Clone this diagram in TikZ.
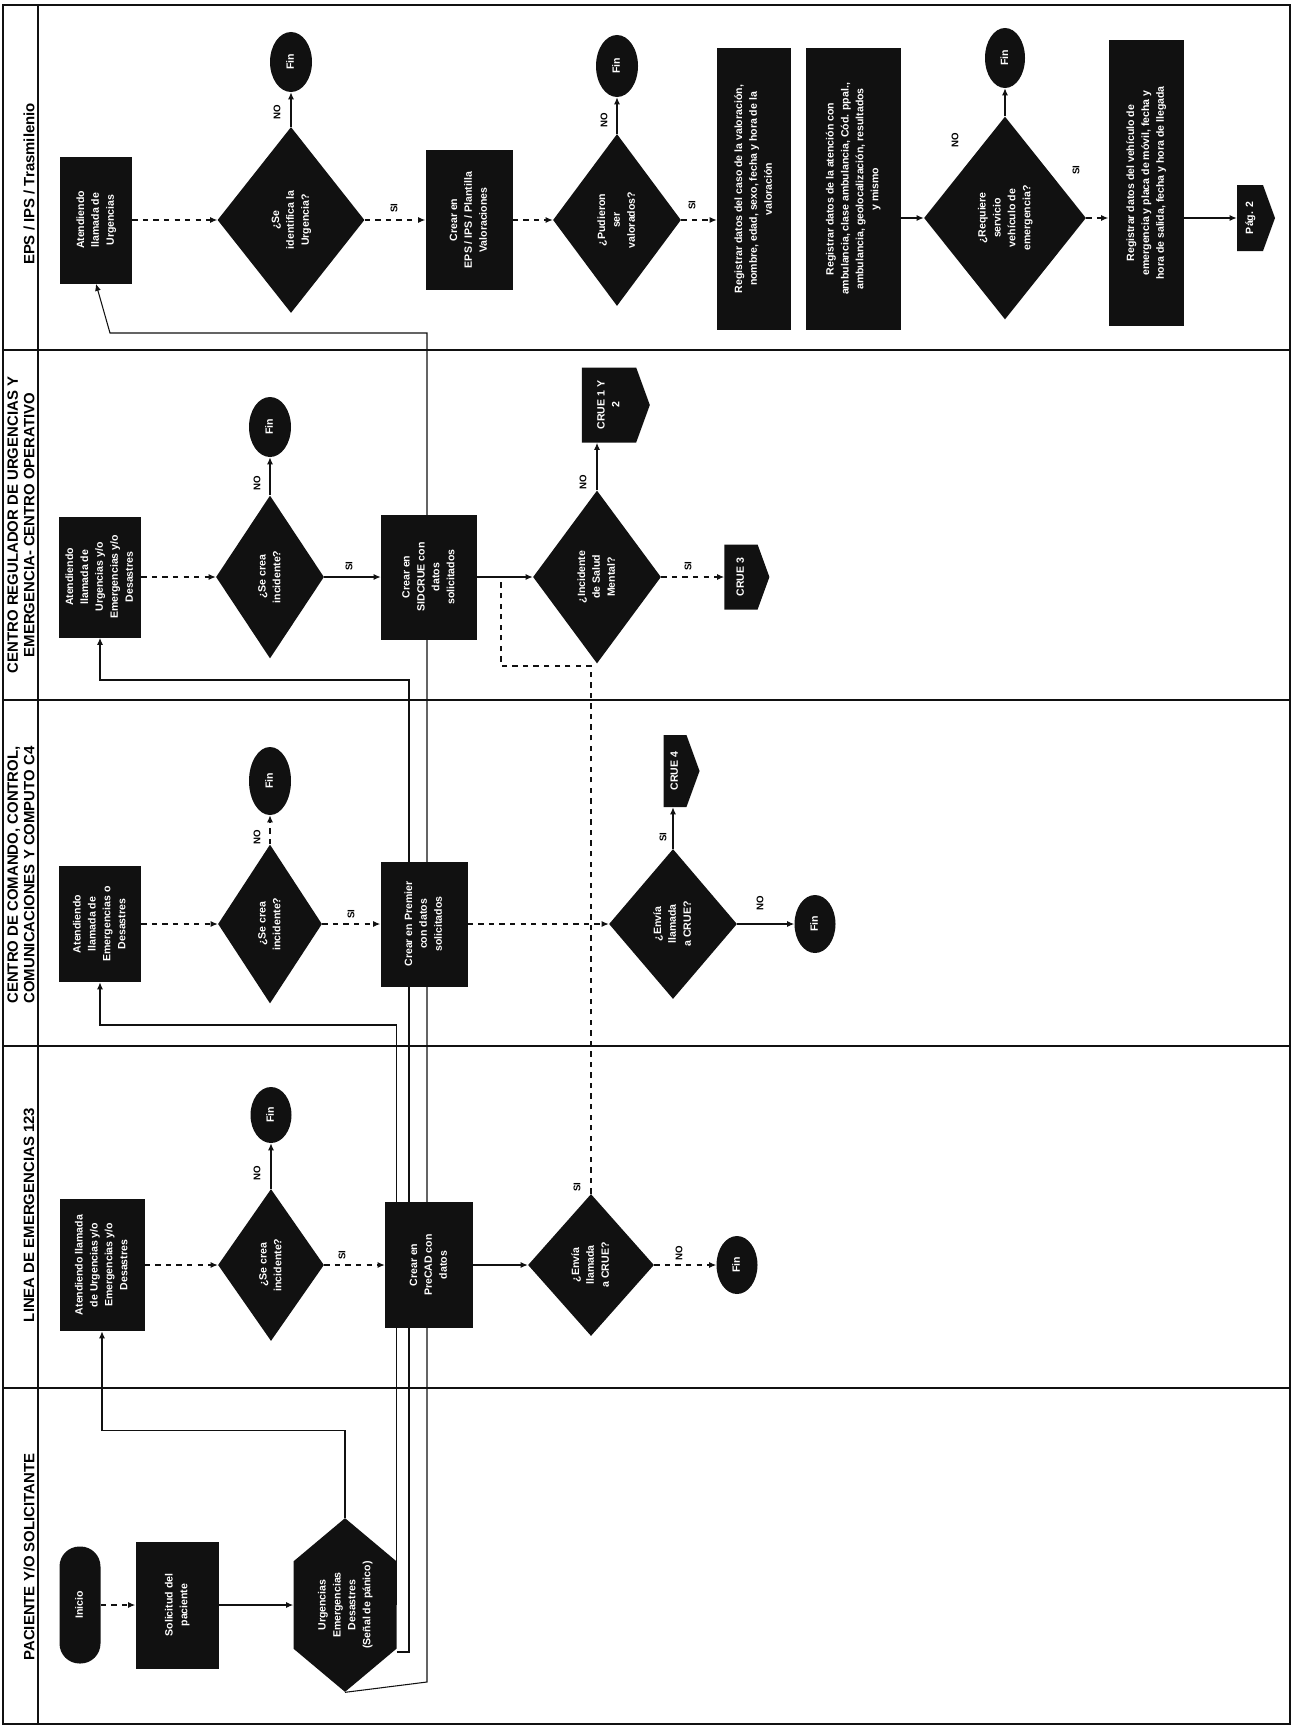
\documentclass[tikz,border=0pt]{standalone}
\usepackage{fontspec}
\setmainfont{Liberation Sans}
\usepackage{graphicx}
\usetikzlibrary{positioning,arrows.meta,shapes.geometric,shapes.symbols,backgrounds,calc}
\definecolor{ink}{HTML}{111111}
\newcommand{\rt}[1]{\rotatebox{90}{\begin{tabular}{@{}c@{}}#1\end{tabular}}}

\begin{document}
\begin{tikzpicture}[
  x=0.2mm, y=-0.2mm,
  sz/.style 2 args={minimum width=#1*0.2mm, minimum height=#2*0.2mm},
  blk/.style={fill=ink, text=white, inner sep=0pt, font=\fontsize{6}{8.5}\selectfont\bfseries},
  task/.style={blk, rectangle},
  ask/.style={blk, diamond},
  term/.style={blk, ellipse},
  startbox/.style={blk, rectangle, rounded corners=4mm},
  pagelink/.style={blk, signal, signal to=east, signal pointer angle=140},
  hexa/.style={blk, signal, signal to=north and south, signal pointer angle=100},
  lane/.style={font=\fontsize{8.5}{9.5}\selectfont\bfseries, rotate=90, align=center, inner sep=0pt},
  lbl/.style={font=\fontsize{5.5}{6}\selectfont\bfseries, rotate=90, inner sep=1pt},
  flow/.style={-{Latex[length=1.4mm,width=1.2mm]}, line width=0.6pt, draw=ink},
  dflow/.style={flow, dashed},
  wire/.style={line width=0.6pt, draw=ink},
]
\begin{scope}[on background layer]
  \fill[white] (0,0) rectangle (1293,1727);
\end{scope}
\useasboundingbox (0,0) rectangle (1293,1727);

% Lanes
\draw[line width=1.2pt, draw=ink] (3,5) rectangle (1290,1724);
\draw[line width=0.8pt, draw=ink] (38,5) -- (38,1724);
\foreach \yy in {350,700,1046,1388}
  \draw[line width=1.2pt, draw=ink] (3,\yy) -- (1290,\yy);

\node[lane] (hEPS)  at (29,184)  {EPS / IPS / Trasmilenio};
\node[lane] (hCRUE) at (21,525)  {CENTRO REGULADOR DE URGENCIAS Y\\EMERGENCIA- CENTRO OPERATIVO};
\node[lane] (hC4)   at (21,875)  {CENTRO DE COMANDO, CONTROL,\\COMUNICACIONES Y COMPUTO C4};
\node[lane] (h123)  at (29,1215) {LINEA DE EMERGENCIAS 123};
\node[lane] (hPac)  at (29,1557) {PACIENTE Y/O SOLICITANTE};

% EPS / IPS / Trasmilenio
\node[task, sz={72}{127}]  (A5)    at (96,220)   {\rt{Atendiendo\\llamada de\\Urgencias}};
\node[ask,  sz={147}{186}] (D5a)   at (291,220)  {\rt{¿Se\\identifica la\\Urgencia?}};
\node[term, sz={42}{60}]   (Fin5a) at (291,62)   {\rt{Fin}};
\node[task, sz={87}{140}]  (C5)    at (469,220)  {\rt{Crear en\\EPS / IPS / Plantilla\\Valoraciones}};
\node[ask,  sz={128}{172}] (D5b)   at (617,220)  {\rt{¿Pudieron\\ser\\valorados?}};
\node[term, sz={42}{62}]   (Fin5b) at (617,66)   {\rt{Fin}};
\node[task, sz={74}{282}]  (R1)    at (754,189)  {\rt{Registrar datos del caso de la valoración,\\nombre, edad, sexo, fecha y hora de la\\valoración}};
\node[task, sz={95}{282}]  (R2)    at (853,189)  {\rt{Registrar datos de la atención con\\ambulancia, clase ambulancia, Cód. ppal.,\\ambulancia, geolocalización, resultados\\y mismo}};
\node[ask,  sz={162}{203}] (D5c)   at (1005,218) {\rt{¿Requiere\\servicio\\vehículo de\\emergencia?}};
\node[term, sz={40}{60}]   (Fin5c) at (1005,58)  {\rt{Fin}};
\node[task, sz={75}{285}]  (R3)    at (1146,183) {\rt{Registrar datos del vehículo de\\emergencia y placa de móvil, fecha y\\hora de salida, fecha y hora de llegada}};
\node[pagelink, sz={38}{66}] (X5)  at (1250,218) {\rt{Pág. 2}};

% Centro regulador
\node[task, sz={82}{121}]  (A4)    at (100,577)  {\rt{Atendiendo\\llamada de\\Urgencias y/o\\Emergencias y/o\\Desastres}};
\node[ask,  sz={108}{163}] (D4a)   at (270,577)  {\rt{¿Se crea\\incidente?}};
\node[term, sz={42}{60}]   (Fin4a) at (270,427)  {\rt{Fin}};
\node[task, sz={96}{125}]  (Csid)  at (429,577)  {\rt{Crear en\\SIDCRUE con\\datos\\solicitados}};
\node[ask,  sz={128}{173}] (D4b)   at (597,577)  {\rt{¿Incidente\\de Salud\\Mental?}};
\node[pagelink, sz={68}{75}] (X4a) at (609,405)  {\rt{CRUE 1 Y\\2}};
\node[pagelink, sz={45}{65}] (X4b) at (741,577)  {\rt{CRUE 3}};

% C4
\node[task, sz={82}{116}]  (A3)    at (100,924)  {\rt{Atendiendo\\llamada de\\Emergencias o\\Desastres}};
\node[ask,  sz={104}{159}] (D3a)   at (270,924)  {\rt{¿Se crea\\incidente?}};
\node[term, sz={42}{68}]   (Fin3a) at (270,781)  {\rt{Fin}};
\node[task, sz={87}{125}]  (C3)    at (424,924)  {\rt{Crear en Premier\\con datos\\solicitados}};
\node[ask,  sz={128}{150}] (D3b)   at (673,924)  {\rt{¿Envía\\llamada\\a CRUE?}};
\node[pagelink, sz={36}{72}] (X3)  at (675,771)  {\rt{CRUE 4}};
\node[term, sz={41}{58}]   (Fin3b) at (815,924)  {\rt{Fin}};

% Linea 123
\node[task, sz={85}{132}]  (A2)    at (102,1265) {\rt{Atendiendo llamada\\de Urgencias y/o\\Emergencias y/o\\Desastres}};
\node[ask,  sz={106}{152}] (D2a)   at (271,1265) {\rt{¿Se crea\\incidente?}};
\node[term, sz={41}{56}]   (Fin2a) at (271,1115) {\rt{Fin}};
\node[task, sz={88}{126}]  (C2)    at (429,1265) {\rt{Crear en\\PreCAD con\\datos}};
\node[ask,  sz={126}{142}] (D2b)   at (591,1265) {\rt{¿Envía\\llamada\\a CRUE?}};
\node[term, sz={41}{58}]   (Fin2b) at (737,1265) {\rt{Fin}};

% Paciente
\node[startbox, sz={41}{117}] (P1) at (80,1605)  {\rt{Inicio}};
\node[task, sz={83}{127}]  (P2)    at (177,1605) {\rt{Solicitud del\\paciente}};
\node[hexa, sz={103}{124}] (P3)    at (345,1605) {\rt{Urgencias\\Emergencias\\Desastres\\(Señal de pánico)}};

% Labels
\node[lbl] at (277,112)  {NO};   \node[lbl] at (394,208)  {SI};
\node[lbl] at (604,120)  {NO};   \node[lbl] at (692,205)  {SI};
\node[lbl] at (955,140)  {NO};   \node[lbl] at (1076,170) {SI};
\node[lbl] at (257,483)  {NO};   \node[lbl] at (349,566)  {SI};
\node[lbl] at (583,482)  {NO};   \node[lbl] at (688,566)  {SI};
\node[lbl] at (257,837)  {NO};   \node[lbl] at (351,914)  {SI};
\node[lbl] at (663,837)  {SI};   \node[lbl] at (760,903)  {NO};
\node[lbl] at (257,1173) {NO};   \node[lbl] at (342,1255) {SI};
\node[lbl] at (577,1187) {SI};   \node[lbl] at (679,1253) {NO};

\coordinate (t1)  at (395,1025);
\coordinate (t2)  at (409,680);
\coordinate (t3a) at (427,1682);
\coordinate (t3b) at (427,333);
\coordinate (t3c) at (110,333);
\coordinate (j1)  at (501,577);
\coordinate (j2)  at (501,666);

\begin{scope}[on background layer]
% from the patient to each lane
\draw[flow] (P3.north) -- ++(0,-87) -| (A2.south);
\draw[flow] (P3.east) |- (t1) -| (A3.south);
\draw[flow] ([yshift=-9.4mm]P3.east) -| (t2) -| (A4.south);
\draw[flow] (P3.south) -- (t3a) -- (t3b) -- (t3c) -- (A5.south);

% EPS / IPS
\draw[dflow] (A5.east) -- (D5a.west);
\draw[flow]  (D5a.north) -- (Fin5a.south);
\draw[dflow] (D5a.east) -- (C5.west);
\draw[dflow] (C5.east) -- (D5b.west);
\draw[flow]  (D5b.north) -- (Fin5b.south);
\draw[dflow] (D5b.east) -- (R1.west |- D5b.east);
\draw[flow]  (R2.east |- D5c.west) -- (D5c.west);
\draw[flow]  (D5c.north) -- (Fin5c.south);
\draw[dflow] (D5c.east) -- (R3.west |- D5c.east);
\draw[flow]  (R3.east |- X5.west) -- (X5.west);

% Centro regulador
\draw[dflow] (A4.east) -- (D4a.west);
\draw[flow]  (D4a.north) -- (Fin4a.south);
\draw[flow]  (D4a.east) -- (Csid.west);
\draw[flow]  (Csid.east) -- (D4b.west);
\draw[flow]  (D4b.north) -- (D4b.north |- X4a.south);
\draw[dflow] (D4b.east) -- (X4b.west);

% C4
\draw[dflow] (A3.east) -- (D3a.west);
\draw[dflow] (D3a.north) -- (Fin3a.south);
\draw[dflow] (D3a.east) -- (C3.west);
\draw[dflow] (C3.east) -- (D3b.west);
\draw[flow]  (D3b.north) -- (D3b.north |- X3.south);
\draw[flow]  (D3b.east) -- (Fin3b.west);

% Linea 123
\draw[dflow] (A2.east) -- (D2a.west);
\draw[flow]  (D2a.north) -- (Fin2a.south);
\draw[dflow] (D2a.east) -- (C2.west);
\draw[flow]  (C2.east) -- (D2b.west);
\draw[dflow] (D2b.east) -- (Fin2b.west);
\draw[wire, dashed] (D2b.north) |- (j2) -- (j1);

% Paciente
\draw[dflow] (P1.east) -- (P2.west);
\draw[flow]  (P2.east) -- (P3.west);
\end{scope}
\end{tikzpicture}
\end{document}
